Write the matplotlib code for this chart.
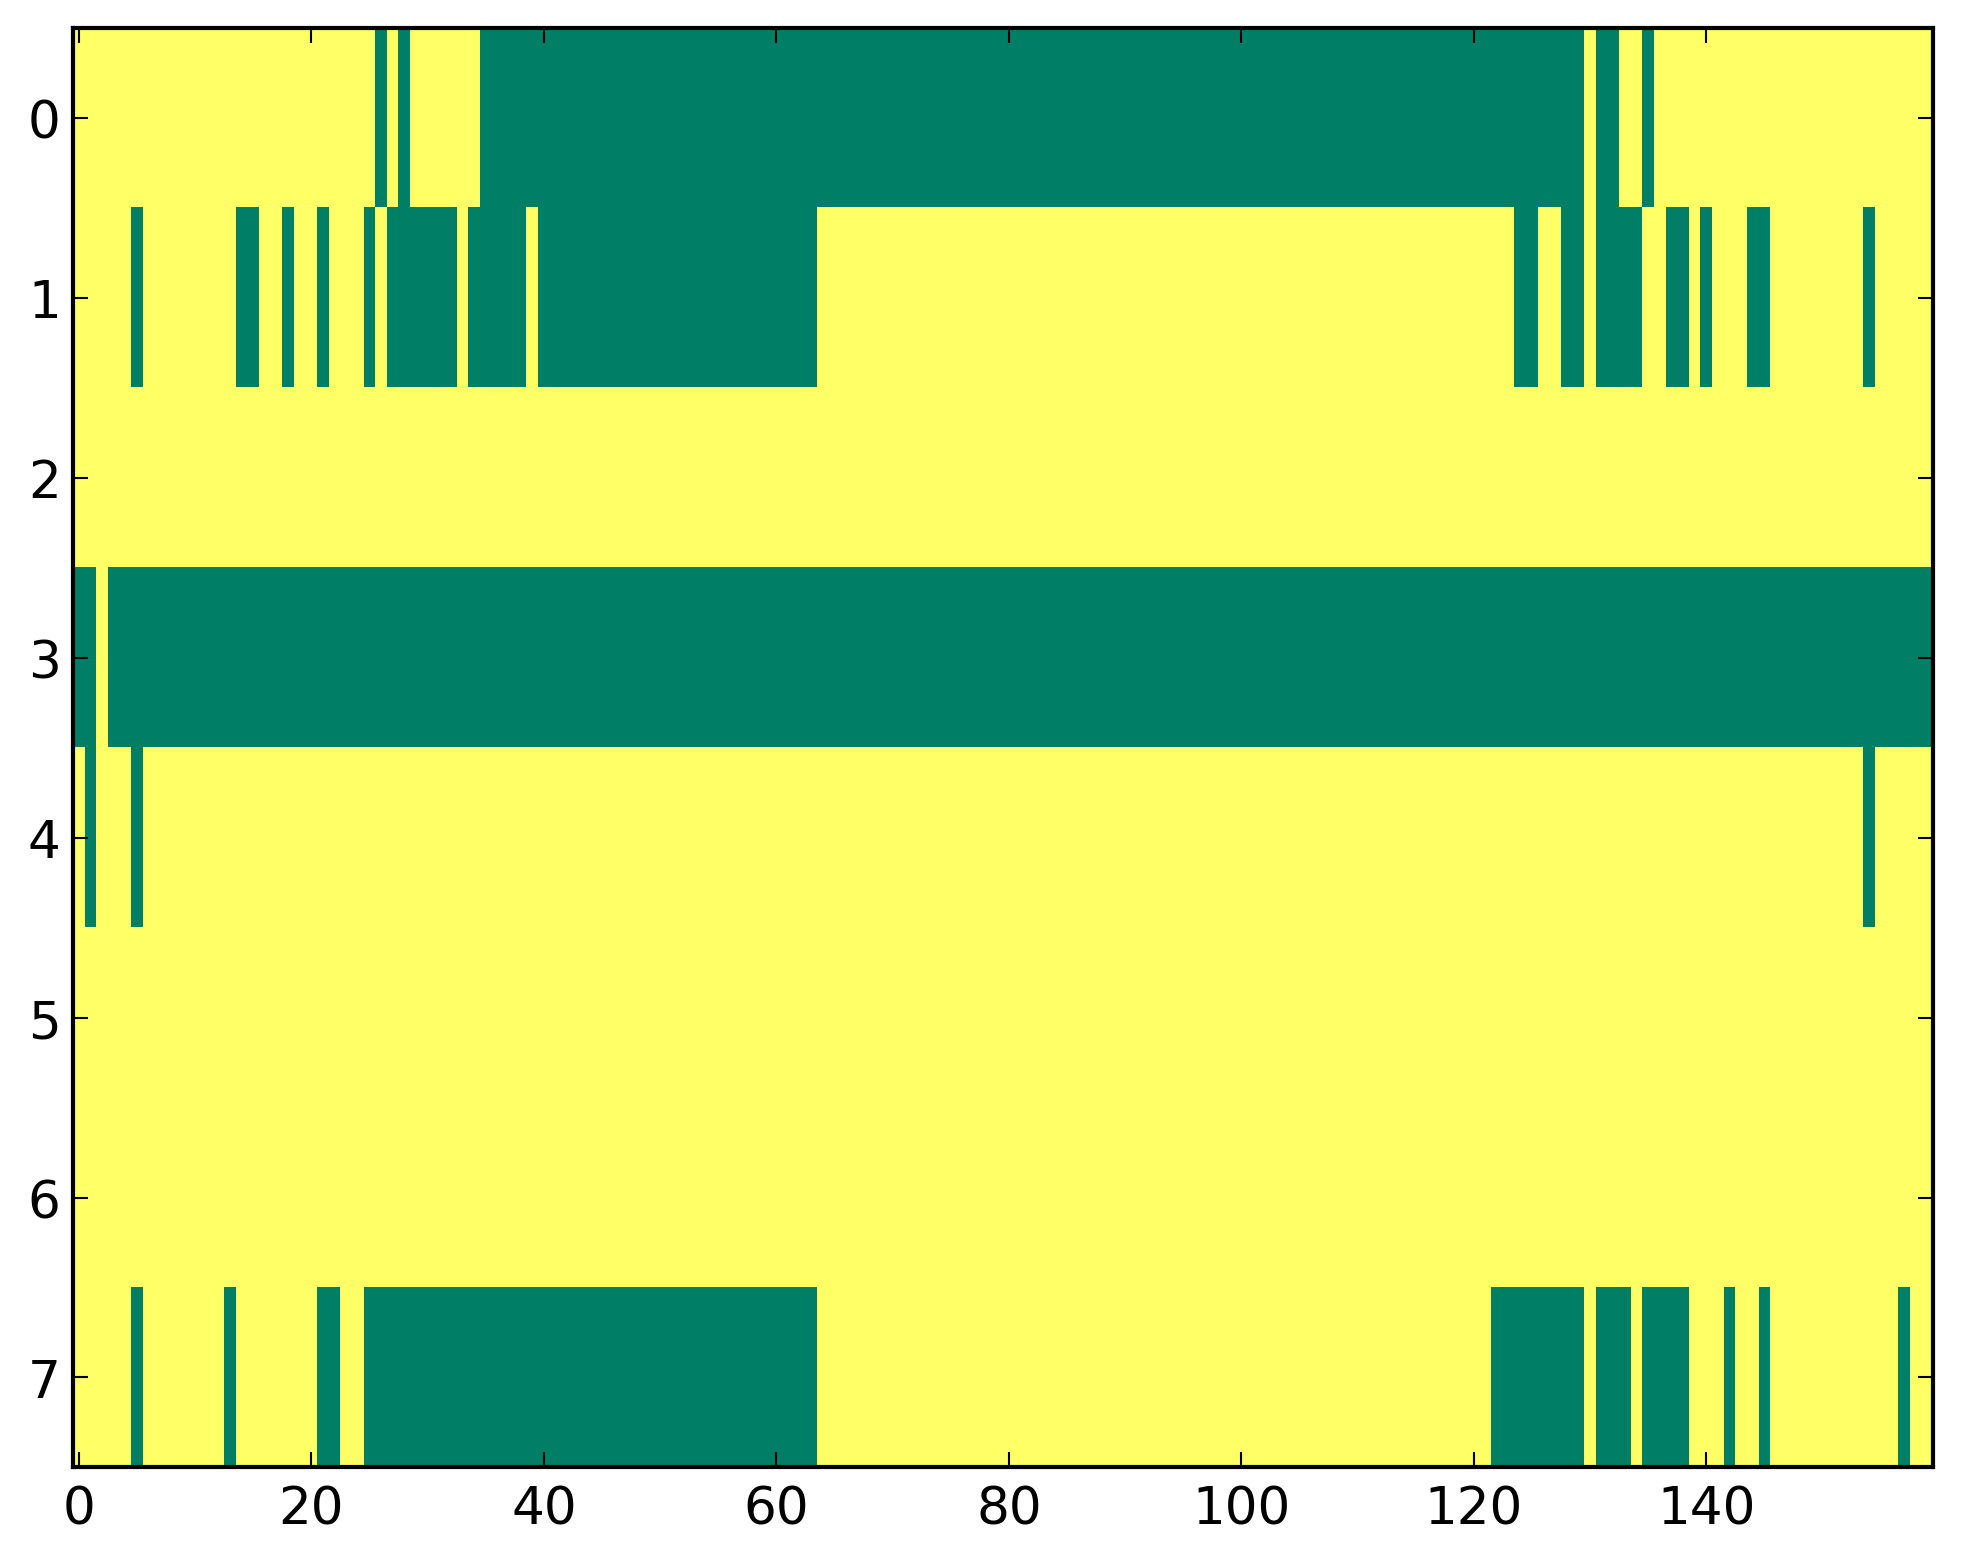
import matplotlib
matplotlib.use("Agg")
import matplotlib.pyplot as plt
import numpy as np

n_rows = 8
n_cols = 160

# green cells (value 0) per row, as inclusive column ranges; everything else is 1 (yellow)
green_runs = {
    0: [(26, 26), (28, 28), (35, 129), (131, 132), (135, 135)],
    1: [(5, 5), (14, 15), (18, 18), (21, 21), (25, 25), (27, 32), (34, 38),
        (40, 63), (124, 125), (128, 129), (131, 134), (137, 138), (140, 140),
        (144, 145), (154, 154)],
    2: [],
    3: [(0, 1), (3, 159)],
    4: [(1, 1), (5, 5), (154, 154)],
    5: [],
    6: [],
    7: [(5, 5), (13, 13), (21, 22), (25, 63), (122, 129), (131, 133),
        (135, 138), (142, 142), (145, 145), (157, 157)],
}

x_ticks = [0, 20, 40, 60, 80, 100, 120, 140]
y_ticks = list(range(n_rows))

grid = np.ones((n_rows, n_cols))
for row, runs in green_runs.items():
    for a, b in runs:
        grid[row, a:b + 1] = 0

fig = plt.figure(figsize=(1963 / 300, 1564 / 300), dpi=300)
ax = fig.add_axes([0.0373, 0.0611, 0.9474, 0.9204])
ax.imshow(grid, cmap="summer", aspect="auto", interpolation="nearest", vmin=0, vmax=1)

ax.set_xticks(x_ticks)
ax.set_yticks(y_ticks)
ax.tick_params(direction="in", top=True, right=True, length=3.5, width=0.5,
               labelsize=12.4)
ax.tick_params(axis="x", pad=4)
ax.tick_params(axis="y", pad=3)
for s in ax.spines.values():
    s.set_linewidth(1.0)

fig.savefig("out.png", dpi=300)
